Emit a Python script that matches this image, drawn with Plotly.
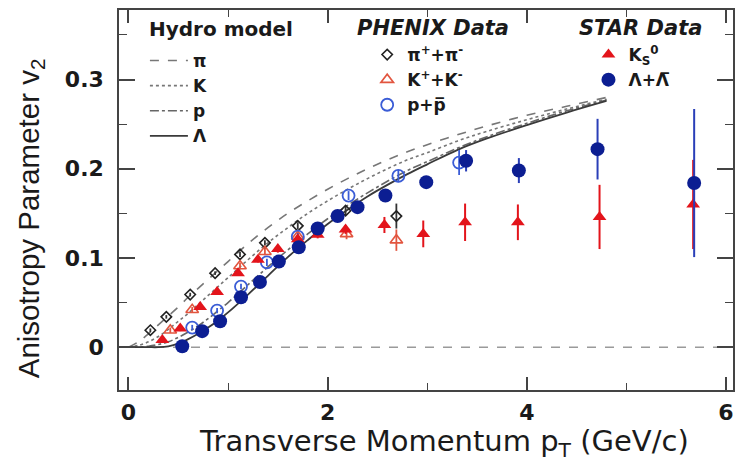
import plotly.graph_objects as go

# ---------------- data ----------------
hydro_pt = [0, 0.1, 0.2, 0.3, 0.4, 0.5, 0.6, 0.7, 0.8, 0.9, 1.0, 1.2, 1.4, 1.6, 1.8,
            2.0, 2.2, 2.4, 2.6, 2.8, 3.0, 3.3, 3.6, 4.0, 4.4, 4.8]
hydro_pion = [0, 0.006, 0.015, 0.025, 0.035, 0.045, 0.056, 0.066, 0.076, 0.086, 0.096, 0.116,
              0.134, 0.150, 0.164, 0.177, 0.189, 0.200, 0.210, 0.219, 0.227, 0.238, 0.248,
              0.260, 0.270, 0.280]
hydro_kaon = [0, 0.002, 0.006, 0.012, 0.020, 0.029, 0.038, 0.048, 0.058, 0.068, 0.078, 0.098,
              0.117, 0.134, 0.150, 0.164, 0.177, 0.189, 0.200, 0.210, 0.218, 0.231, 0.242,
              0.255, 0.267, 0.278]
hydro_proton = [0, 0, 0.001, 0.003, 0.006, 0.011, 0.017, 0.024, 0.032, 0.041, 0.050, 0.070,
                0.090, 0.109, 0.127, 0.144, 0.159, 0.173, 0.186, 0.198, 0.208, 0.223, 0.236,
                0.251, 0.265, 0.277]
hydro_lambda = [0, 0, 0, 0, 0.001, 0.004, 0.009, 0.015, 0.022, 0.030, 0.039, 0.059, 0.080,
                0.101, 0.120, 0.138, 0.154, 0.169, 0.182, 0.194, 0.205, 0.221, 0.234, 0.249,
                0.263, 0.276]

phenix_pi_pt = [0.22, 0.38, 0.62, 0.87, 1.12, 1.37, 1.70, 2.18, 2.69]
phenix_pi_v2 = [0.019, 0.034, 0.059, 0.083, 0.104, 0.117, 0.136, 0.153, 0.147]
phenix_pi_err = [0.002, 0.002, 0.002, 0.002, 0.003, 0.003, 0.004, 0.005, 0.014]

phenix_k_pt = [0.42, 0.64, 1.12, 1.37, 1.70, 2.19, 2.69]
phenix_k_v2 = [0.019, 0.042, 0.091, 0.107, 0.124, 0.127, 0.120]
phenix_k_err = [0.003, 0.003, 0.004, 0.004, 0.005, 0.006, 0.012]

phenix_p_pt = [0.64, 0.89, 1.13, 1.39, 1.70, 2.21, 2.71, 3.32]
phenix_p_v2 = [0.022, 0.041, 0.068, 0.095, 0.124, 0.170, 0.192, 0.207]
phenix_p_err = [0.003, 0.003, 0.003, 0.004, 0.004, 0.005, 0.007, 0.014]

star_k0s_pt = [0.34, 0.52, 0.72, 0.89, 1.10, 1.30, 1.50, 1.70, 1.90, 2.18, 2.57, 2.96,
               3.38, 3.91, 4.73, 5.67]
star_k0s_v2 = [0.008, 0.021, 0.045, 0.062, 0.083, 0.098, 0.110, 0.121, 0.126, 0.132, 0.137,
               0.127, 0.140, 0.140, 0.146, 0.160]
star_k0s_err = [0.003, 0.003, 0.003, 0.003, 0.003, 0.003, 0.004, 0.004, 0.004, 0.005, 0.009,
                0.015, 0.021, 0.020, 0.036, 0.050]

star_lam_pt = [0.54, 0.74, 0.92, 1.13, 1.32, 1.51, 1.71, 1.90, 2.10, 2.30, 2.58, 2.99, 3.39,
               3.92, 4.71, 5.68]
star_lam_v2 = [0.001, 0.018, 0.029, 0.056, 0.073, 0.096, 0.112, 0.133, 0.147, 0.157, 0.170,
               0.185, 0.209, 0.198, 0.222, 0.184]
star_lam_err = [0.004, 0.003, 0.003, 0.003, 0.003, 0.003, 0.003, 0.003, 0.004, 0.004, 0.004,
                0.005, 0.012, 0.014, 0.034, 0.083]

x_ticks = [0, 2, 4, 6]
y_ticks = [0, 0.1, 0.2, 0.3]
y_ticktext = ["0", "0.1", "0.2", "0.3"]

group_titles = ["Hydro model", "PHENIX Data", "STAR Data"]

# ---------------- figure ----------------
W, H = 736, 465
ML, MR, MT, MB = 119, 1, 10, 75
PW, PH = W - ML - MR, H - MT - MB


def px(x):
    return (x - ML) / PW


def py(y):
    return (H - MB - y) / PH


fig = go.Figure()
fig.add_hline(y=0, line=dict(color="#9a9a9a", width=1.5, dash="dash"), layer="below")

fig.add_trace(go.Scatter(x=hydro_pt, y=hydro_pion, mode="lines", name="π",
                         line=dict(color="#777777", width=1.6, dash="dash", shape="spline"),
                         legend="legend"))
fig.add_trace(go.Scatter(x=hydro_pt, y=hydro_kaon, mode="lines", name="K",
                         line=dict(color="#777777", width=1.6, dash="dot", shape="spline"),
                         legend="legend"))
fig.add_trace(go.Scatter(x=hydro_pt, y=hydro_proton, mode="lines", name="p",
                         line=dict(color="#666666", width=1.6, dash="dashdot", shape="spline"),
                         legend="legend"))
fig.add_trace(go.Scatter(x=hydro_pt, y=hydro_lambda, mode="lines", name="Λ",
                         line=dict(color="#3a3a3a", width=1.8, shape="spline"),
                         legend="legend"))

fig.add_trace(go.Scatter(x=phenix_pi_pt, y=phenix_pi_v2, mode="markers",
                         name="π<sup>+</sup>+π<sup>-</sup>",
                         marker=dict(symbol="diamond-open", size=8, color="#222222",
                                     line=dict(width=1.6, color="#222222")),
                         error_y=dict(type="data", array=phenix_pi_err, color="#333333",
                                      thickness=1.8, width=0),
                         legend="legend2"))
fig.add_trace(go.Scatter(x=phenix_k_pt, y=phenix_k_v2, mode="markers",
                         name="K<sup>+</sup>+K<sup>-</sup>",
                         marker=dict(symbol="triangle-up-open", size=11, color="#e2553f",
                                     line=dict(width=1.6, color="#e2553f")),
                         error_y=dict(type="data", array=phenix_k_err, color="#e2553f",
                                      thickness=1.8, width=0),
                         legend="legend2"))
fig.add_trace(go.Scatter(x=phenix_p_pt, y=phenix_p_v2, mode="markers",
                         name="p+p\u0305",
                         marker=dict(symbol="circle-open", size=12, color="#3a5cd6",
                                     line=dict(width=1.8, color="#3a5cd6")),
                         error_y=dict(type="data", array=phenix_p_err, color="#3a5cd6",
                                      thickness=1.8, width=0),
                         legend="legend2"))

fig.add_trace(go.Scatter(x=star_k0s_pt, y=star_k0s_v2, mode="markers",
                         name="K<sub>S</sub><sup>0</sup>",
                         marker=dict(symbol="triangle-up", size=12, color="#e3141b"),
                         error_y=dict(type="data", array=star_k0s_err, color="#e3141b",
                                      thickness=2, width=0),
                         legend="legend3"))
fig.add_trace(go.Scatter(x=star_lam_pt, y=star_lam_v2, mode="markers",
                         name="Λ+Λ\u0305",
                         marker=dict(symbol="circle", size=14, color="#0c1e92"),
                         error_y=dict(type="data", array=star_lam_err, color="#2a3fb8",
                                      thickness=2, width=0),
                         legend="legend3"))

tick_font = dict(family="DejaVu Sans", size=22, color="#1a1a1a", weight="bold")
axis_common = dict(showgrid=False, zeroline=False, showline=True, mirror="ticks",
                   linecolor="#444444", linewidth=1.5, ticks="inside", tickcolor="#444444",
                   tickwidth=1.5, tickfont=tick_font)

fig.update_xaxes(range=[-0.095, 6.07], tickvals=x_ticks, ticklen=13,
                 minor=dict(dtick=1, tick0=0, ticks="inside", ticklen=7, tickcolor="#444444",
                            tickwidth=1.3),
                 ticklabelstandoff=2, **axis_common)
fig.update_yaxes(range=[-0.048, 0.378], tickvals=y_ticks, ticktext=y_ticktext, ticklen=16,
                 minor=dict(dtick=0.05, tick0=0, ticks="inside", ticklen=8,
                            tickcolor="#444444", tickwidth=1.3),
                 ticklabelstandoff=9, **axis_common)

legend_item_font = dict(family="DejaVu Sans", size=17, color="#1a1a1a", weight="bold")
leg_common = dict(xanchor="left", yanchor="top", bgcolor="rgba(0,0,0,0)",
                  font=legend_item_font, tracegroupgap=0,
                  itemclick=False, itemdoubleclick=False)

title_font = dict(family="DejaVu Sans", size=20, color="#1a1a1a", weight="bold")
title_font_it = dict(family="DejaVu Sans", size=21, color="#1a1a1a", weight="bold",
                     style="italic")

fig.update_layout(
    width=W, height=H,
    margin=dict(l=ML, r=MR, t=MT, b=MB),
    paper_bgcolor="white", plot_bgcolor="white",
    showlegend=True,
    legend=dict(x=px(145), y=py(43), itemwidth=38, **leg_common),
    legend2=dict(x=px(368), y=py(37), itemwidth=30, **leg_common),
    legend3=dict(x=px(590), y=py(37), itemwidth=30, **leg_common),
    annotations=[
        dict(text=group_titles[0], xref="paper", yref="paper", x=px(147), y=py(29),
             xanchor="left", yanchor="middle", showarrow=False, font=title_font),
        dict(text=group_titles[1], xref="paper", yref="paper", x=px(356), y=py(28),
             xanchor="left", yanchor="middle", showarrow=False, font=title_font_it),
        dict(text=group_titles[2], xref="paper", yref="paper", x=px(578), y=py(28),
             xanchor="left", yanchor="middle", showarrow=False, font=title_font_it),
        dict(text="Transverse Momentum p<sub>T</sub> (GeV/c)", xref="paper", yref="paper",
             x=px(445), y=py(443), xanchor="center", yanchor="middle", showarrow=False,
             font=dict(family="DejaVu Sans", size=29, color="#1a1a1a")),
        dict(text="Anisotropy Parameter v<sub>2</sub>", xref="paper", yref="paper",
             x=px(31), y=py(218), xanchor="center", yanchor="middle", showarrow=False,
             textangle=-90,
             font=dict(family="Liberation Sans, sans-serif", size=29.5, color="#1a1a1a")),
    ],
)

fig.write_html("out.html")
